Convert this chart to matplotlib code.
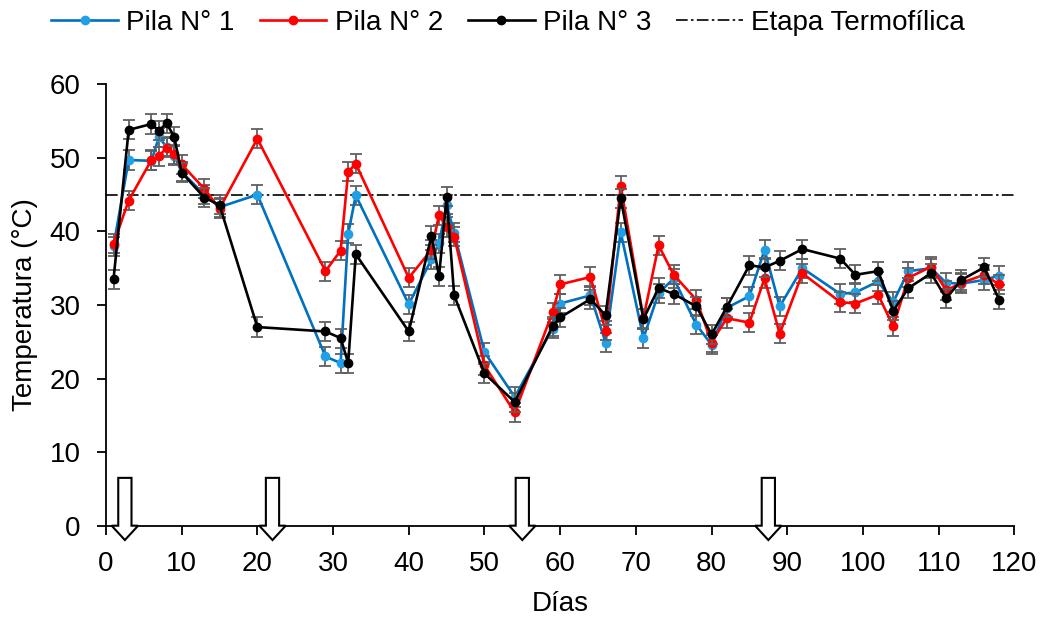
import matplotlib
matplotlib.use("Agg")
import matplotlib.pyplot as plt
from matplotlib.patches import FancyArrow

# ── Data ──────────────────────────────────────────────────────────────────────
days = [1, 3, 6, 7, 8, 9, 10, 13, 15, 20, 29, 31, 32, 33, 40, 43, 44, 45, 46,
        50, 54, 59, 60, 64, 66, 68, 71, 73, 75, 78, 80, 82, 85, 87, 89, 92,
        97, 99, 102, 104, 106, 109, 111, 113, 116, 118]

pila1 = [38.0, 49.7, 49.6, 52.8, 51.5, 50.3, 48.1, 45.0, 43.3, 45.0, 23.0, 22.1,
         39.7, 44.9, 30.1, 36.2, 38.4, 43.6, 39.8, 23.6, 17.5, 26.8, 30.2, 31.3,
         24.9, 39.9, 25.5, 31.6, 33.6, 27.3, 24.6, 29.6, 31.2, 37.5, 29.8, 35.0,
         31.5, 31.7, 33.2, 30.4, 34.6, 35.0, 33.0, 32.9, 33.4, 34.0]

pila2 = [38.3, 44.2, 49.7, 50.2, 51.4, 50.5, 49.1, 45.8, 43.1, 52.6, 34.6, 37.4,
         48.1, 49.2, 33.7, 37.5, 42.2, 40.6, 39.3, 21.8, 15.4, 29.0, 32.8, 33.8,
         26.5, 46.2, 28.2, 38.1, 34.1, 30.7, 24.9, 28.2, 27.6, 33.6, 26.1, 34.3,
         30.4, 30.2, 31.4, 27.1, 33.7, 35.2, 32.0, 33.0, 34.1, 32.8]

pila3 = [33.5, 53.8, 54.6, 53.7, 54.7, 52.9, 48.0, 44.6, 43.6, 27.0, 26.4, 25.5,
         22.1, 36.9, 26.4, 39.4, 33.9, 44.7, 31.3, 20.7, 16.8, 27.1, 28.3, 30.8,
         28.6, 44.5, 28.1, 32.3, 31.5, 29.8, 26.0, 29.7, 35.4, 35.1, 36.0, 37.6,
         36.3, 34.1, 34.6, 29.2, 32.3, 34.3, 30.9, 33.4, 35.1, 30.7]

err = 1.3                       # roughly constant error bar half-height (°C)
termofilica = 45                # threshold of the thermophilic stage
arrow_days = [2.5, 22, 55, 87.5]  # events marked with arrows

labels = ["Pila N° 1", "Pila N° 2", "Pila N° 3", "Etapa Termofílica"]

# ── Style ─────────────────────────────────────────────────────────────────────
plt.rcParams.update({
    "font.family": ["Liberation Sans", "DejaVu Sans"],
    "font.size": 20,
    "axes.linewidth": 1.3,
})

fig = plt.figure(figsize=(10.48, 6.17), dpi=100)
ax = fig.add_axes([0.1011, 0.148, 0.8668, 0.7154])

series = [
    (pila1, "#0070C0", "#22A0E6"),
    (pila2, "#FF0000", "#FF0000"),
    (pila3, "#000000", "#000000"),
]

handles = []
for z, (vals, lc, mc) in enumerate(series):
    ax.errorbar(days, vals, yerr=err, fmt="none", ecolor="#606060",
                elinewidth=1.3, capsize=4, capthick=1.3, zorder=2 + 2 * z)
    h, = ax.plot(days, vals, color=lc, lw=1.9, marker="o", markersize=6,
                 markerfacecolor=mc, markeredgecolor=mc, zorder=3 + 2 * z)
    handles.append(h)

hl = ax.axhline(termofilica, color="black", lw=1.2,
                linestyle=(0, (7, 2, 1.5, 2)), zorder=1)
handles.append(hl)

# hollow arrows sitting on the x axis
for d in arrow_days:
    ax.add_patch(FancyArrow(d, 6.5, 0, -8.45, width=1.75, head_width=3.5,
                            head_length=1.95, length_includes_head=True,
                            facecolor="white", edgecolor="black", lw=1.5,
                            clip_on=False, zorder=10))

ax.set_xlim(0, 120)
ax.set_ylim(0, 60)
ax.set_xticks(range(0, 121, 10))
ax.set_yticks(range(0, 61, 10))
ax.spines["top"].set_visible(False)
ax.spines["right"].set_visible(False)
ax.tick_params(direction="out", length=6.3, width=1.3, pad=12, labelsize=20)

ax.set_xlabel("Días", fontsize=20, labelpad=10)
ax.set_ylabel("Temperatura (°C)", fontsize=20, labelpad=8)

fig.legend(handles, labels, loc="center", bbox_to_anchor=(0.485, 0.963),
           ncol=4, frameon=False, fontsize=20, handlelength=2.4,
           handletextpad=0.3, columnspacing=0.9, borderaxespad=0)

fig.savefig("out.png", dpi=100)
